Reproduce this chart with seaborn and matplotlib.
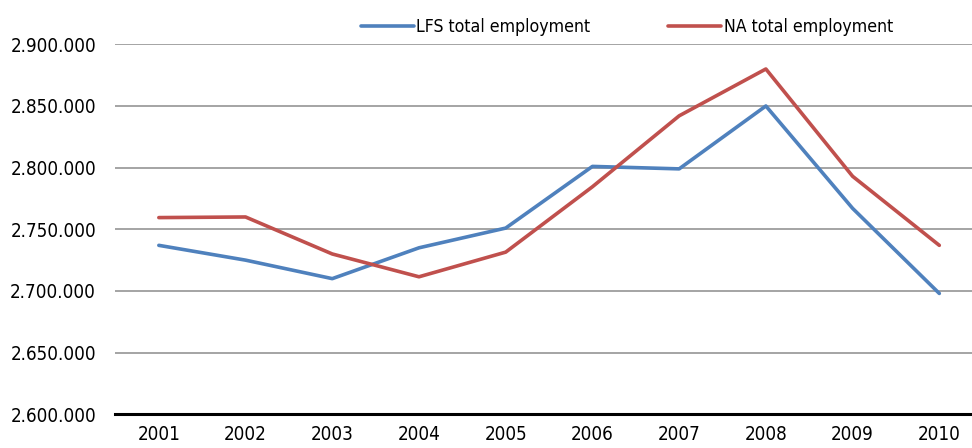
import matplotlib
matplotlib.use('Agg')
from matplotlib import pyplot as plt
from matplotlib import font_manager
from matplotlib.ticker import FuncFormatter, MultipleLocator
import pandas as pd
import seaborn

years = ['2001', '2002', '2003', '2004', '2005', '2006', '2007', '2008', '2009', '2010']
lfs_total = [2737000, 2725000, 2710000, 2735000, 2751000, 2801000, 2799000, 2850000, 2767000, 2698000]
na_total = [2759500, 2760000, 2730000, 2711500, 2731500, 2784500, 2842000, 2880000, 2793000, 2737000]
series_names = ['LFS total employment', 'NA total employment']
colors = ['#4F81BD', '#C0504D']

df = pd.DataFrame({
    'year': years * 2,
    'value': lfs_total + na_total,
    'series': [series_names[0]] * len(years) + [series_names[1]] * len(years),
})

seaborn.set_style('white')

# pick a narrow face if one is installed, the original uses a condensed sans
fonts = font_manager.fontManager.ttflist
narrow = [f for f in fonts if f.name == 'Liberation Sans Narrow']
condensed = [f for f in fonts if f.name == 'DejaVu Sans' and 'condensed' in str(f.stretch)]
if narrow:
    plt.rcParams['font.family'] = ['Liberation Sans Narrow', 'DejaVu Sans']
    fsize = 15.5
elif condensed:
    plt.rcParams['font.family'] = ['DejaVu Sans']
    plt.rcParams['font.stretch'] = 'condensed'
    fsize = 13.5
else:
    plt.rcParams['font.family'] = ['Roboto', 'DejaVu Sans']
    fsize = 13.2
plt.rcParams['text.color'] = 'black'

fig = plt.figure(figsize=(9.72, 4.48), dpi=100)
ax = fig.add_axes([0.1188, 0.0752, 0.8812, 0.8259])

seaborn.lineplot(data=df, x='year', y='value', hue='series', palette=colors,
                 linewidth=2.6, ax=ax, legend=False, sort=False)

ax.set_ylim(2600000, 2900000)
ax.set_xlim(-0.5, 9.377)
ax.yaxis.set_major_locator(MultipleLocator(50000))
ax.yaxis.set_major_formatter(FuncFormatter(lambda v, p: f'{int(v):,}'.replace(',', '.')))
ax.grid(axis='y', color='#8c8c8c', linewidth=1.1)
ax.grid(axis='x', visible=False)
ax.set_axisbelow(True)

for side in ['top', 'right', 'left']:
    ax.spines[side].set_visible(False)
ax.spines['bottom'].set_color('black')
ax.spines['bottom'].set_linewidth(2.2)
ax.spines['bottom'].set_zorder(5)

ax.tick_params(axis='y', length=0, pad=14, labelsize=fsize, labelcolor='black')
ax.tick_params(axis='x', length=0, pad=8, labelsize=fsize, labelcolor='black')
ax.set_xlabel('')
ax.set_ylabel('')

handles = [plt.Line2D([], [], color=c, linewidth=2.6) for c in colors]
fig.legend(handles, series_names, loc='center', bbox_to_anchor=(0.645, 1 - 27 / 448),
           ncol=2, frameon=False, fontsize=fsize - 0.8, handlelength=3.0, handletextpad=0.15,
           columnspacing=4.4)

fig.savefig('out.png', dpi=100)
